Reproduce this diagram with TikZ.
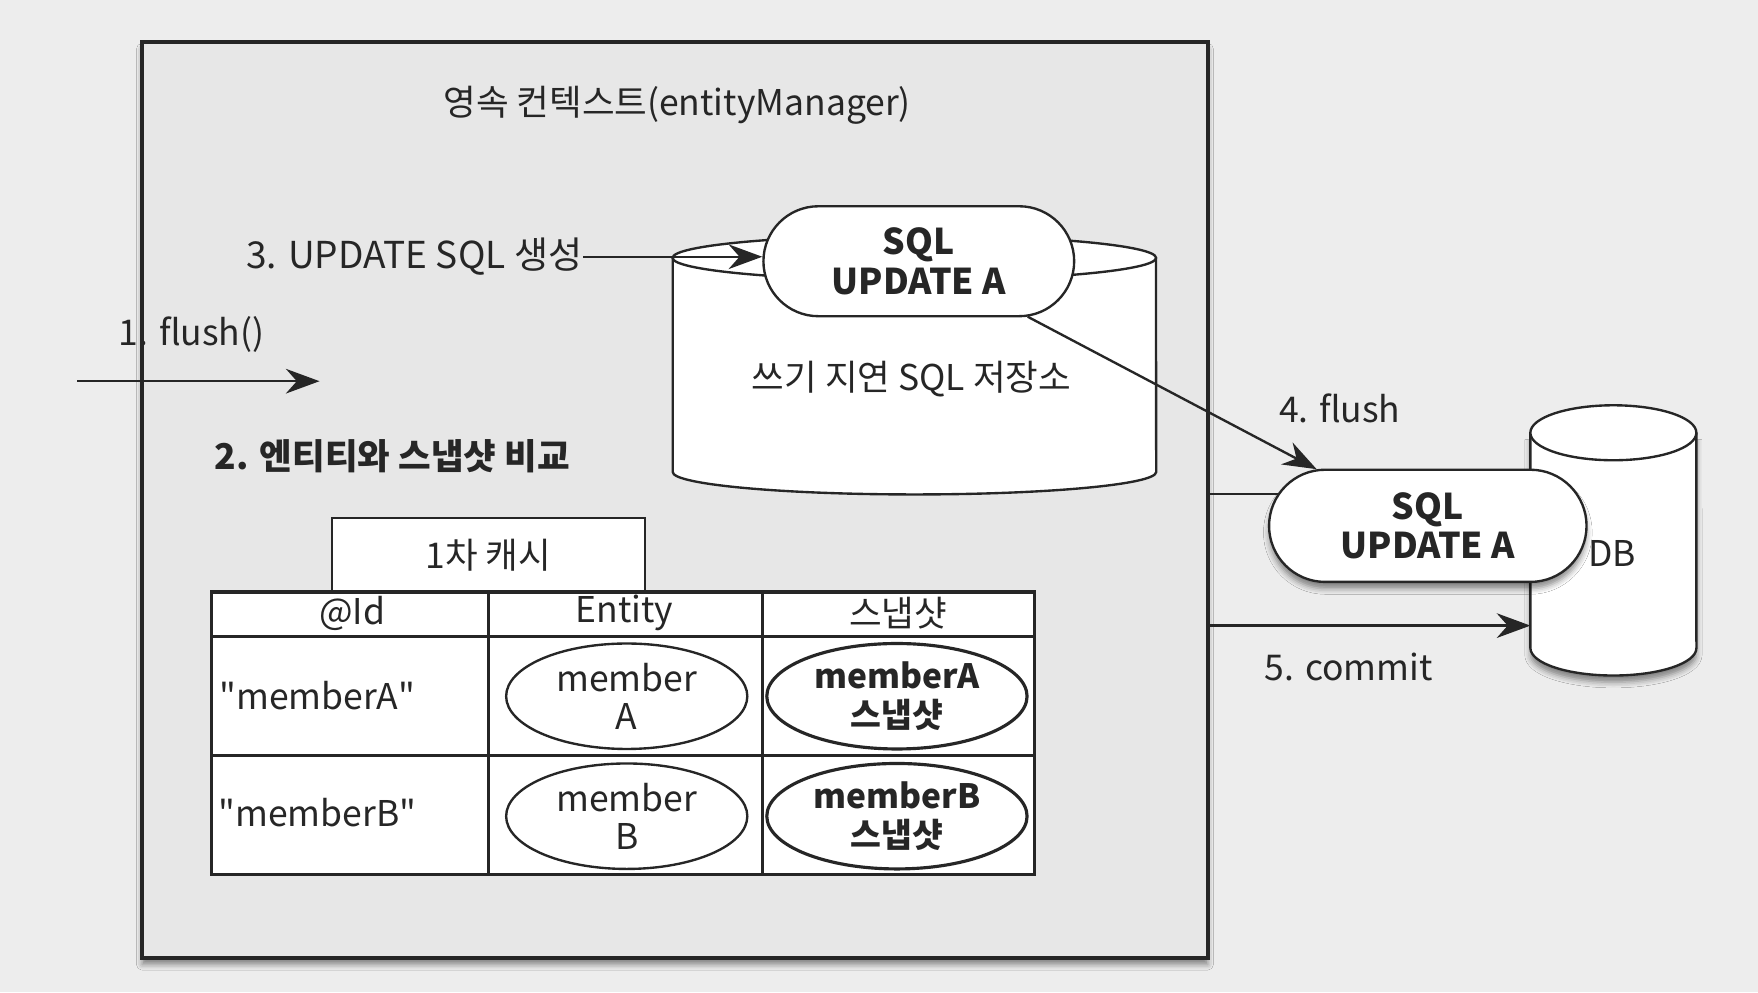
\documentclass[tikz,border=0pt]{standalone}
\usepackage{fontspec}
\setmainfont{Noto Sans CJK KR}
\usetikzlibrary{positioning}
\usetikzlibrary{arrows.meta,shapes.misc,shapes.geometric,shadows.blur}
\definecolor{pagegray}{HTML}{EDEDED}
\definecolor{boxgray}{HTML}{E7E7E7}
\definecolor{ink}{HTML}{262626}
\tikzstyle{ctxbox}=[draw=ink, line width=1pt, fill=boxgray, minimum width=9.5cm, minimum height=8.16cm, inner sep=0pt, blur shadow={shadow xshift=0pt, shadow yshift=-0.6mm, shadow blur radius=0.5mm, shadow opacity=45}]
\tikzstyle{pill}=[rounded rectangle, draw=ink, semithick, fill=white, minimum width=2.77cm, minimum height=0.98cm, inner sep=0pt, align=center, text=ink, font=\bfseries\fontsize{9}{10}\selectfont]
\tikzstyle{entity}=[ellipse, draw=ink, semithick, fill=white, inner sep=0pt, align=center, text=ink, font=\fontsize{9}{9.7}\selectfont]
\tikzstyle{lbl}=[font=\fontsize{9}{10}\selectfont, text=ink, inner sep=0pt]
\tikzstyle{arr}=[draw=ink, semithick, -{Stealth[length=3mm,width=2.2mm]}]

\begin{document}
\begin{tikzpicture}[x=0.01cm, y=-0.01cm]

  \fill[pagegray] (0,0) rectangle (1568,885);
  \useasboundingbox (0,0) rectangle (1568,885);

  % persistence context
  \node[ctxbox] (ctx) at (602,446) {};
  \node[lbl] (title) at (604,94) {영속 컨텍스트(entityManager)};

  % write-behind SQL store
  \draw[ink, semithick, fill=white] (600,230) -- (600,421) arc[start angle=180, end angle=360, x radius=2.155cm, y radius=0.2cm] -- (1031,230);
  \draw[ink, semithick, fill=white] (815.5,230) ellipse [x radius=2.155cm, y radius=0.2cm];
  \node[lbl] (store) at (813,338) {쓰기 지연 SQL 저장소};

  \node[pill] (sql1) at (819.5,233) {SQL\\UPDATE A};

  \node[lbl, font=\fontsize{9.4}{10}\selectfont, anchor=east] (step3) at (520,229) {3. UPDATE SQL 생성};
  \draw[arr] (step3.east) -- (step3.east -| sql1.west);

  \coordinate (f1s) at (69,340);
  \coordinate (f1e) at (285,340);
  \draw[arr] (f1s) -- (f1e);
  \node[lbl] (step1) at (171,298) {1. flush()};

  \node[lbl, font=\bfseries\fontsize{9}{10}\selectfont, anchor=west] (step2) at (191,407) {2. 엔티티와 스냅샷 비교};

  % first level cache
  \node[draw=ink, semithick, fill=white, minimum width=2.79cm, minimum height=0.66cm, lbl] (cache) at (435.5,495) {1차 캐시};

  \draw[ink, thick, fill=white] (189,528) rectangle (923,780);
  \foreach \x in {436,680}
     \draw[ink, thick] (\x,528) -- (\x,780);
  \foreach \y in {568,674}
     \draw[ink, thick] (189,\y) -- (923,\y);

  \foreach \x/\name/\label in {314/hid/@Id, 557/hent/Entity, 801/hsnap/스냅샷}
     \node[lbl] (\name) at (\x,547) {\label};

  \foreach \y/\name/\label in {620/keyA/\textquotedbl memberA\textquotedbl, 725/keyB/\textquotedbl memberB\textquotedbl}
     \node[lbl] (\name) at (283,\y) {\label};

  \foreach \y/\name/\label in {621/entA/{member\\A}, 728/entB/{member\\B}}
     \node[entity, minimum width=2.15cm, minimum height=0.94cm] (\name) at (559,\y) {\label};

  \foreach \y/\name/\label in {621/snapA/{memberA\\스냅샷}, 728/snapB/{memberB\\스냅샷}}
     \node[entity, line width=0.8pt, font=\bfseries\fontsize{8.5}{9.7}\selectfont, minimum width=2.32cm, minimum height=0.94cm] (\name) at (800,\y) {\label};

  % database
  \draw[ink, semithick, fill=white, blur shadow={shadow xshift=0pt, shadow yshift=-0.6mm, shadow blur radius=0.5mm, shadow opacity=45}] (1365,386) -- (1365,578) arc[start angle=180, end angle=360, x radius=0.74cm, y radius=0.245cm] -- (1513,386);
  \draw[ink, semithick, fill=white] (1439,386) ellipse [x radius=0.74cm, y radius=0.245cm];
  \node[lbl] (db) at (1438,494) {DB};
  \coordinate (dbw) at (1365,558);

  \node[pill, minimum width=2.83cm, minimum height=1cm, blur shadow={shadow xshift=0pt, shadow yshift=-0.6mm, shadow blur radius=0.5mm, shadow opacity=45}] (sql2) at (1273.5,469) {SQL\\UPDATE A};

  \draw[ink, semithick] (sql2.168 -| ctx.east) -- (sql2.168);
  \draw[arr] (dbw -| ctx.east) -- (dbw);
  \draw[arr] (sql1.-27) -- (sql2.153);

  \node[lbl] (step4) at (1195,364) {4. flush};
  \node[lbl] (step5) at (1203,595) {5. commit};

\end{tikzpicture}
\end{document}
